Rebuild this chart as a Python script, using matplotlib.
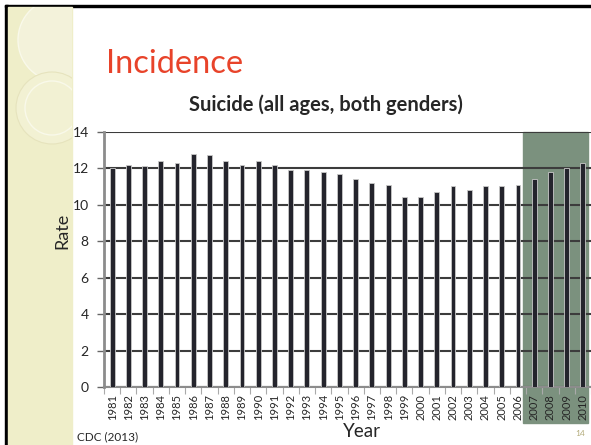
import matplotlib.pyplot as plt
import matplotlib.patches as mpatches
import numpy as np

plt.rcParams["font.family"] = ["Lato", "DejaVu Sans"]

# suicide rate per 100,000
years = [str(y) for y in range(1981, 2011)]
rates = [12.0, 12.2, 12.1, 12.4, 12.3, 12.8, 12.7, 12.4, 12.2, 12.4,
         12.2, 11.9, 11.9, 11.8, 11.7, 11.4, 11.2, 11.1, 10.4, 10.4,
         10.7, 11.0, 10.8, 11.0, 11.0, 11.1, 11.4, 11.8, 12.0, 12.3]
y_ticks = [0, 2, 4, 6, 8, 10, 12, 14]

W, H = 591, 445


def fx(px):
    return px / W


def fy(py):
    return 1 - py / H


fig = plt.figure(figsize=(W / 100, H / 100), dpi=100)
fig.patch.set_facecolor("white")

# slide decoration: black frame, pale stripe with circles
fig.add_artist(mpatches.Rectangle((fx(5), 0), fx(3), fy(5), color="black", zorder=-5))
fig.add_artist(mpatches.Rectangle((fx(5), fy(7)), 1, fy(5) - fy(7), color="black", zorder=-5))
stripe = mpatches.Rectangle((fx(8), 0), fx(64), fy(7), color="#efeec9", zorder=-4)
fig.add_artist(stripe)
for cx, cy, r, fc, ec, lw in [(60, 40, 42, "#f3f2da", "#f9f9ea", 1.0),
                              (52, 108, 36, "#f2f1d3", "#e6e3bd", 0.8),
                              (52, 108, 27, "none", "#f9f9ea", 1.0)]:
    c = mpatches.Ellipse((fx(cx), fy(cy)), 2 * r / W, 2 * r / H,
                         facecolor=fc, edgecolor=ec, lw=lw, zorder=-3)
    fig.add_artist(c)
    c.set_clip_path(stripe)

# highlighted years
fig.add_artist(mpatches.Rectangle((fx(523), fy(423)), fx(65), fy(131.7) - fy(423),
                                  color="#7b917e", zorder=-2))

fig.text(fx(106), fy(73), "Incidence", color="#e8432a", fontsize=23.5, ha="left", va="baseline")
fig.text(fx(326), fy(110.7), "Suicide (all ages, both genders)", fontsize=14.5,
         fontweight="bold", color="#262626", ha="center", va="baseline")
fig.text(fx(77), fy(440), "CDC (2013)", color="#262626", fontsize=8.5, ha="left", va="baseline")
fig.text(fx(585), fy(436), "14", color="#b3ab7a", fontsize=6, ha="right", va="baseline")
fig.text(fx(362), fy(437), "Year", fontsize=13.5, color="#262626", ha="center", va="baseline")
fig.text(fx(62), fy(231), "Rate", fontsize=13, color="#262626", rotation=90,
         ha="center", va="center")

ax = fig.add_axes([fx(104), fy(387), 1 - fx(104), fy(131.7) - fy(387)])
ax.patch.set_alpha(0)

x = np.arange(len(years))
ax.bar(x, rates, width=0.3, color="#24242c", edgecolor="#c8c8c8", linewidth=0.6, zorder=3)

ax.set_xlim(-0.5, len(years) - 0.5)
ax.set_ylim(0, 14)
ax.set_yticks(y_ticks)
ax.set_yticklabels([str(v) for v in y_ticks], fontsize=10, color="#262626")
ax.set_xticks(x)
ax.set_xticklabels(years, rotation=90, fontsize=8, color="#262626")
ax.set_xticks(np.arange(-0.5, len(years)), minor=True)
ax.tick_params(axis="x", which="major", length=0, pad=5)
ax.tick_params(axis="x", which="minor", length=5, color="#aaaaaa", width=0.8)
ax.tick_params(axis="y", length=5, color="#666666", width=1, pad=6)

ax.grid(axis="y", color="#3c3c3c", linewidth=1.5, zorder=1)
ax.set_axisbelow(True)
for s in ["top", "right"]:
    ax.spines[s].set_visible(False)
ax.spines["left"].set_color("#8c8c8c")
ax.spines["left"].set_linewidth(2)
ax.spines["bottom"].set_color("#8c8c8c")
ax.spines["bottom"].set_linewidth(1.5)

fig.savefig("out.png", dpi=100)
